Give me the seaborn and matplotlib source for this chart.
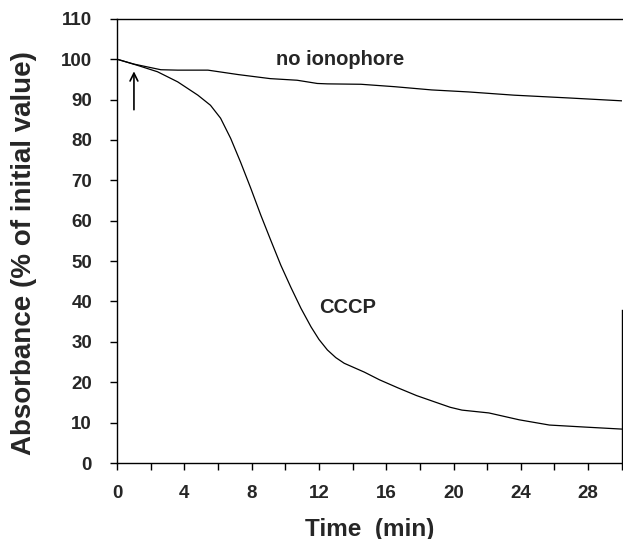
import numpy as np
import pandas as pd
import seaborn as sns
import matplotlib.pyplot as plt

# values
time_ctrl = [0, 1, 2.6, 3.6, 5.4, 7.2, 9.1, 10.7, 11.9, 12.5, 14.5, 16.5, 18.7, 20.9,
             23.6, 26.9, 30]
abs_ctrl = [100, 98.8, 97.4, 97.3, 97.3, 96.2, 95.2, 94.8, 94.0, 93.9, 93.8, 93.2, 92.4,
            91.9, 91.1, 90.4, 89.7]

time_cccp = [0, 1.2, 2.4, 3.6, 4.8, 5.55, 6.15, 6.75, 7.34, 7.94, 8.54, 9.13, 9.73, 10.33,
             10.93, 11.53, 12.0, 12.5, 13.0, 13.5, 14.7, 15.6, 16.7, 17.8, 18.9, 19.8,
             20.5, 22.1, 23.9, 25.7, 27.8, 30]
abs_cccp = [100, 98.5, 96.9, 94.4, 91.1, 88.6, 85.4, 80.4, 74.5, 68.1, 61.4, 55.2, 49.0, 43.5,
            38.3, 33.7, 30.6, 28.0, 26.1, 24.7, 22.5, 20.6, 18.6, 16.7, 15.1, 13.8,
            13.1, 12.4, 10.7, 9.4, 8.9, 8.4]

df = pd.concat([
    pd.DataFrame({"time": time_ctrl, "abs": abs_ctrl, "cond": "no ionophore"}),
    pd.DataFrame({"time": time_cccp, "abs": abs_cccp, "cond": "CCCP"}),
])

sns.set_style("ticks")
plt.rcParams['font.family'] = ['Liberation Sans', 'DejaVu Sans']

fig = plt.figure(figsize=(6.23, 5.39), dpi=100)
ax = fig.add_axes([0.188, 0.141, 0.81, 0.824])

sns.lineplot(data=df, x="time", y="abs", hue="cond", palette=["black", "black"],
             linewidth=0.9, legend=False, ax=ax, estimator=None, sort=False)

ax.set_xlim(0, 30)
ax.set_ylim(0, 110)
ax.set_xticks(np.arange(0, 29, 4))
ax.set_xticks(np.arange(0, 31, 2), minor=True)
ax.set_yticks(np.arange(0, 111, 10))
ax.tick_params(axis='both', which='both', direction='out', length=5, width=1, color='black')
ax.tick_params(axis='x', which='major', pad=11)
ax.tick_params(axis='y', pad=13)
for lab in ax.get_xticklabels() + ax.get_yticklabels():
    lab.set_fontweight('bold')
    lab.set_fontsize(13.5)

for s in ax.spines.values():
    s.set_color('black')
    s.set_linewidth(1.0)
ax.spines['right'].set_bounds(0, 38)

ax.set_xlabel("Time  (min)", fontsize=17.5, fontweight='bold', labelpad=11)
ax.set_ylabel("Absorbance (% of initial value)", fontsize=20, fontweight='bold',
              labelpad=17, y=0.472)

ax.text(13.28, 100, "no ionophore", fontsize=14.5, fontweight='bold', ha='center', va='center')
ax.text(13.7, 38.4, "CCCP", fontsize=14.5, fontweight='bold', ha='center', va='center')
ax.annotate("", xy=(1, 97.0), xytext=(1, 87.5),
            arrowprops=dict(arrowstyle='->', color='black', lw=1.2,
                            shrinkA=0, shrinkB=0, mutation_scale=14))

fig.savefig("out.png", dpi=100)
